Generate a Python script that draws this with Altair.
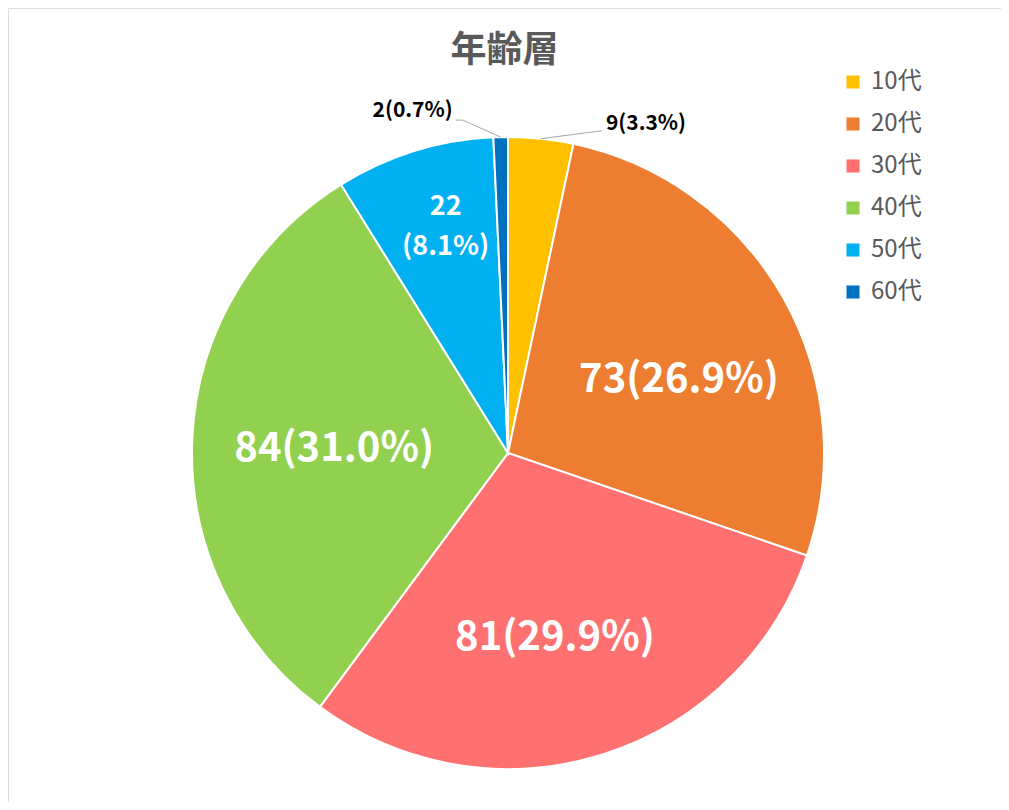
import altair as alt
import pandas as pd

categories = ["10代", "20代", "30代", "40代", "50代", "60代"]
counts = [9, 73, 81, 84, 22, 2]
percents = ["3.3", "26.9", "29.9", "31.0", "8.1", "0.7"]
colors = ["#FFC000", "#ED7D31", "#FF7070", "#92D050", "#00B0F0", "#0070C0"]

df = pd.DataFrame({"年代": categories, "人数": counts, "割合": percents})

W, H = 993, 794
CX, CY, R = 500, 445, 316
FONT = "Noto Sans CJK JP"

base = alt.Chart(df).transform_calculate(
    lab="datum['人数'] + '(' + datum['割合'] + '%)'",
    lab2="datum['人数'] + '\\n(' + datum['割合'] + '%)'",
)

theta = alt.Theta("人数:Q", stack=True)
order = alt.Order("年代:N", sort="ascending")
cx = alt.value(CX)
cy = alt.value(CY)

arcs = base.mark_arc(outerRadius=R, stroke="white", strokeWidth=2).encode(
    theta=theta,
    order=order,
    x=cx,
    y=cy,
    color=alt.Color(
        "年代:N",
        scale=alt.Scale(domain=categories, range=colors),
        legend=alt.Legend(
            title=None,
            orient="none",
            legendX=833,
            legendY=62,
            symbolType="square",
            symbolSize=170,
            symbolStrokeWidth=0,
            symbolOpacity=1,
            labelFontSize=24,
            labelFont=FONT,
            labelColor="#595959",
            labelOffset=6,
            rowPadding=18,
            padding=0,
        ),
    ),
)


def inner_label(cat, field, radius, size, dx, dy, **kw):
    return base.transform_calculate(
        t=f"datum['年代'] == '{cat}' ? datum.{field} : ''"
    ).mark_text(
        radius=radius, font=FONT, fontSize=size, fontWeight="bold", color="white",
        dx=dx, dy=dy, **kw
    ).encode(theta=theta, order=order, x=cx, y=cy, text="t:N")


lab20 = inner_label("20代", "lab", 185, 40, 10, 18)
lab30 = inner_label("30代", "lab", 185, 40, -8, 8)
lab40 = inner_label("40代", "lab", 185, 40, 11, 4)
lab50 = inner_label("50代", "lab2", 237, 27, 8, -20, lineBreak="\n", lineHeight=40)

geo = base.transform_joinaggregate(
    total="sum(人数)"
).transform_window(
    cum="sum(人数)", sort=[alt.SortField("年代", order="ascending")], frame=[None, 0]
).transform_calculate(
    a="2*PI*(datum.cum - datum['人数']/2)/datum.total",
).transform_calculate(
    ax=f"{CX} + {R}*sin(datum.a)",
    ay=f"{CY} - {R}*cos(datum.a)",
).transform_calculate(
    ex="datum['年代'] == '10代' ? datum.ax + 61 : datum.ax - 38",
    ey="datum['年代'] == '10代' ? datum.ay - 8 : datum.ay - 17",
).transform_calculate(
    fx="datum['年代'] == '10代' ? datum.ex : datum.ex - 7",
).transform_filter(
    "datum['年代'] == '10代' || datum['年代'] == '60代'"
)

leader1 = geo.mark_rule(color="#A6A6A6", strokeWidth=1).encode(
    x=alt.X("ax:Q", scale=None),
    y=alt.Y("ay:Q", scale=None),
    x2="ex:Q",
    y2="ey:Q",
)
leader2 = geo.mark_rule(color="#A6A6A6", strokeWidth=1).encode(
    x=alt.X("ex:Q", scale=None),
    y=alt.Y("ey:Q", scale=None),
    x2="fx:Q",
    y2="ey:Q",
)

small_r = geo.transform_filter("datum['年代'] == '10代'").mark_text(
    font=FONT, fontSize=21, fontWeight="bold", color="black", align="left",
    baseline="middle", dx=4, dy=-7,
).encode(x=alt.X("fx:Q", scale=None), y=alt.Y("ey:Q", scale=None), text="lab:N")

small_l = geo.transform_filter("datum['年代'] == '60代'").mark_text(
    font=FONT, fontSize=21, fontWeight="bold", color="black", align="right",
    baseline="middle", dx=-3, dy=-9,
).encode(x=alt.X("fx:Q", scale=None), y=alt.Y("ey:Q", scale=None), text="lab:N")

chart = alt.layer(arcs, lab20, lab30, lab40, lab50, leader1, leader2, small_r, small_l).properties(
    width=W,
    height=H,
    autosize=alt.AutoSizeParams(type="none"),
    padding=0,
    title=alt.TitleParams(
        "年齢層", anchor="middle", font=FONT, fontSize=36, fontWeight="bold",
        color="#595959", baseline="top", offset=0, dy=62,
    ),
).configure_view(stroke="#D9D9D9", strokeWidth=2).configure(background="white")

chart.save("out.html", embed_options={"renderer": "svg", "actions": False})
